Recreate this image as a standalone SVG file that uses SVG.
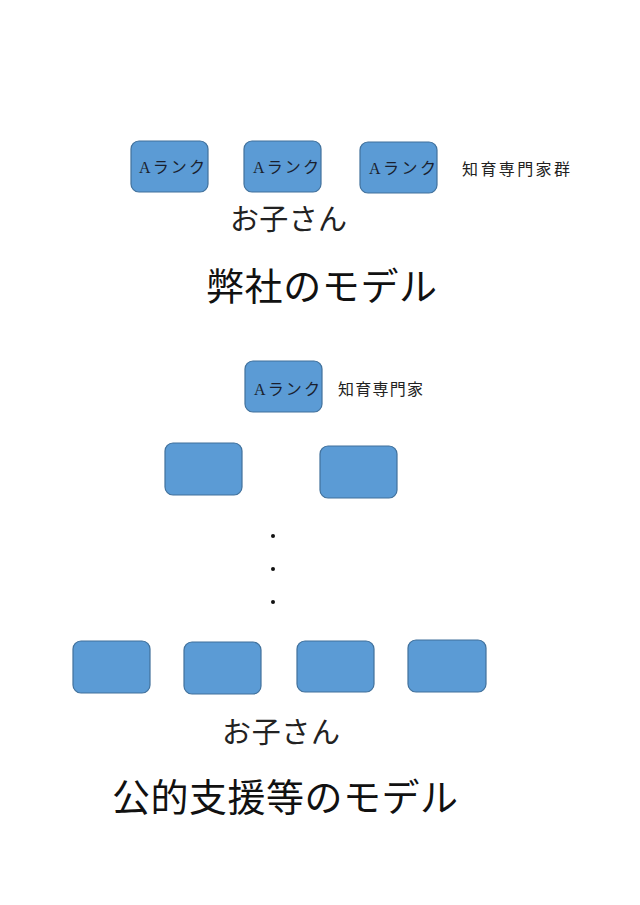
<svg xmlns="http://www.w3.org/2000/svg" width="640" height="905" viewBox="0 0 640 905">
<style>
.box{fill:#5B9BD5;stroke:#41719C;stroke-width:1.2}
text{font-family:"Liberation Serif","Noto Sans CJK JP",serif;fill:#111}
.lbl{font-size:16px;fill:#1a1f2e}
.note{font-size:16px;fill:#222}
.kid{font-size:29px;fill:#222}
.title{font-size:38px;fill:#111}
</style>
<rect width="640" height="905" fill="#fff"/>
<g id="top-a1"><rect class="box" x="131" y="141" width="77" height="51" rx="8"/><text class="lbl" x="139" y="173" textLength="66">Aランク</text></g>
<g id="top-a2"><rect class="box" x="244" y="141" width="77" height="51" rx="8"/><text class="lbl" x="253" y="173" textLength="66">Aランク</text></g>
<g id="top-a3"><rect class="box" x="360" y="142" width="77" height="51" rx="8"/><text class="lbl" x="369" y="174" textLength="67">Aランク</text></g>
<text class="note" x="462" y="175" textLength="108">知育専門家群</text>
<text class="kid" x="230" y="230" textLength="117">お子さん</text>
<text class="title" x="206" y="300" textLength="231">弊社のモデル</text>

<g id="pub-a"><rect class="box" x="245" y="361" width="77" height="51" rx="8"/><text class="lbl" x="254" y="395" textLength="66">Aランク</text></g>
<text class="note" x="338" y="395" textLength="85">知育専門家</text>
<g id="pub-m1"><rect class="box" x="165" y="443" width="77" height="52" rx="8"/></g>
<g id="pub-m2"><rect class="box" x="320" y="446" width="77" height="52" rx="8"/></g>
<g id="dots"><circle cx="273" cy="536" r="2" fill="#111"/><circle cx="273" cy="569" r="2" fill="#111"/><circle cx="273" cy="602" r="2" fill="#111"/></g>
<g id="pub-b1"><rect class="box" x="73" y="641" width="77" height="52" rx="8"/></g>
<g id="pub-b2"><rect class="box" x="184" y="642" width="77" height="52" rx="8"/></g>
<g id="pub-b3"><rect class="box" x="297" y="641" width="77" height="51" rx="8"/></g>
<g id="pub-b4"><rect class="box" x="408" y="640" width="78" height="52" rx="8"/></g>
<text class="kid" x="222" y="743" textLength="118">お子さん</text>
<text class="title" x="112" y="811" textLength="346">公的支援等のモデル</text>
<g id="connectors"></g>
</svg>
